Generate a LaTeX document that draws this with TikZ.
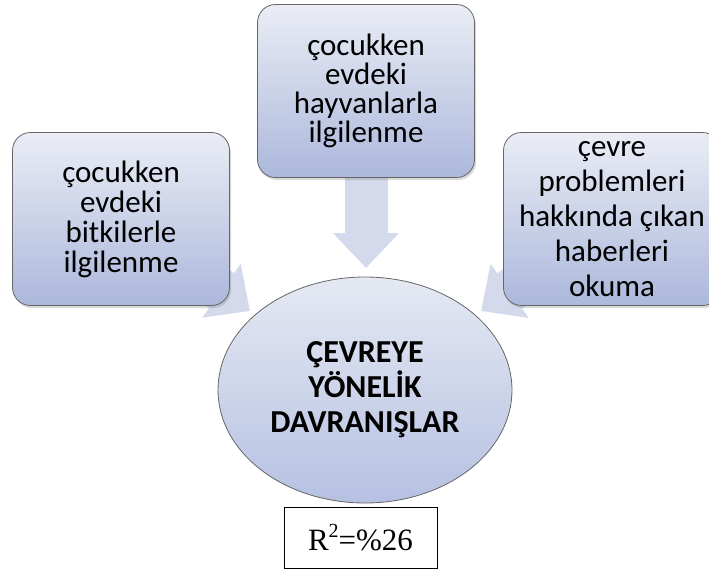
\documentclass[tikz,border=0pt]{standalone}
\usepackage{fontspec}
\setmainfont{Carlito}
\newfontfamily\serifR{Liberation Serif}
\usetikzlibrary{arrows.meta,shadows,shapes.geometric,backgrounds}

\definecolor{boxtop}{RGB}{234,237,245}
\definecolor{boxbot}{RGB}{172,184,220}
\definecolor{elltop}{RGB}{229,233,243}
\definecolor{ellbot}{RGB}{182,193,226}
\definecolor{arrowcol}{RGB}{212,218,235}

\newcommand{\rsup}[1]{\raisebox{0.42em}{\fontsize{20}{20}\selectfont #1}}

\tikzset{
  factor/.style={draw=black!60, line width=0.8pt, rounded corners=18pt,
    top color=boxtop, bottom color=boxbot, minimum width=217pt,
    minimum height=173pt, inner sep=0pt, align=center,
    font=\fontsize{31}{29}\selectfont,
    drop shadow={shadow xshift=1.5pt, shadow yshift=-2.5pt, opacity=.3}},
  outcome/.style={ellipse, draw=black!60, line width=0.8pt,
    top color=elltop, bottom color=ellbot, minimum width=294pt,
    minimum height=226pt, inner sep=0pt, align=center,
    font=\bfseries\fontsize{32}{35}\selectfont},
  rsq/.style={draw, line width=1pt, minimum width=153pt, minimum height=61pt,
    inner sep=0pt, font=\serifR\fontsize{31}{34}\selectfont},
  blockarrow/.style={line width=43pt, draw=arrowcol,
    -{Triangle[width=64pt,length=35pt]}},
}

\begin{document}
\begin{tikzpicture}[x=1pt,y=-1pt]
  \useasboundingbox (0,0) rectangle (709,574);

  % factors
  \node[factor] (hayvan) at (366,91) {çocukken\\evdeki\\hayvanlarla\\ilgilenme};
  \node[factor, font=\fontsize{31}{30}\selectfont] (bitki) at (121,219)
    {çocukken\\evdeki\\bitkilerle\\ilgilenme};
  \node[factor, font=\fontsize{31}{35}\selectfont] (haber) at (612,219)
    {çevre\\problemleri\\hakkında çıkan\\haberleri\\okuma};

  % outcome
  \node[outcome] (davranis) at (365,390) {ÇEVREYE\\YÖNELİK\\DAVRANIŞLAR};
  \node[rsq] (r2) at (360.5,537.5) {R\rsup{2}=\%26};

  \coordinate (tipT) at (366,268);
  \coordinate (tipL) at (250,311);
  \coordinate (tipR) at (481,311);

  \begin{scope}[on background layer]
    \draw[blockarrow] (hayvan.center) -- (tipT);
    \draw[blockarrow] (bitki.center) -- (tipL);
    \draw[blockarrow] (haber.center) -- (tipR);
  \end{scope}
\end{tikzpicture}
\end{document}
